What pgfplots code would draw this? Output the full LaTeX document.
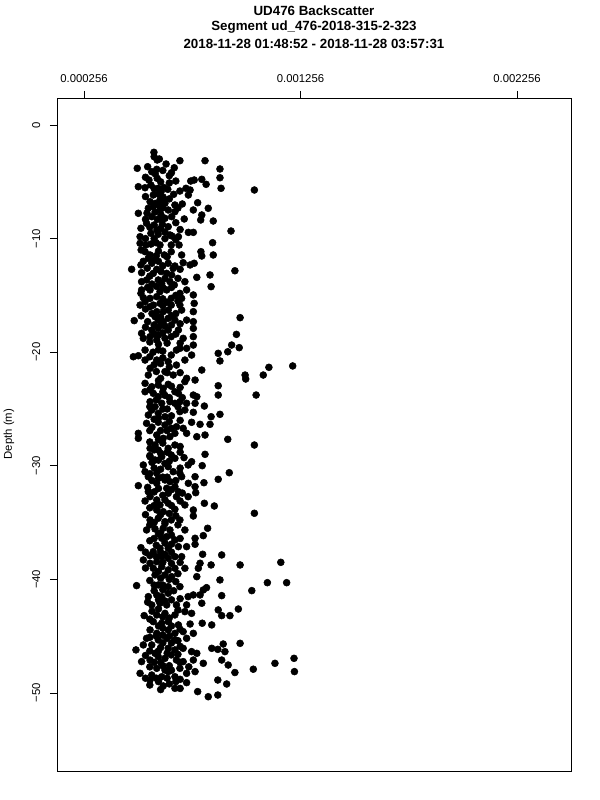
\documentclass[border=0pt]{standalone}
\usepackage{pgfplots}
\pgfplotsset{compat=1.18}
\usepackage{fontspec}
\setmainfont{Liberation Sans}
\begin{document}
\begin{tikzpicture}[x=0.75pt,y=0.75pt]
\useasboundingbox (0,0) rectangle (600,800);
\node[font=\fontsize{10}{12}\selectfont\bfseries] at (314,789) {UD476 Backscatter};
\node[font=\fontsize{10}{12}\selectfont\bfseries] at (314,773) {Segment ud\_476-2018-315-2-323};
\node[font=\fontsize{10}{12}\selectfont\bfseries] at (314,756) {2018-11-28 01:48:52 - 2018-11-28 03:57:31};
\node[rotate=90,font=\fontsize{8.5}{10}\selectfont] at (9,366) {Depth (m)};
\begin{axis}[
  at={(42.75pt,21.75pt)}, anchor=south west,
  scale only axis, width=385.5pt, height=504.75pt,
  xmin=0.0001313, xmax=0.0025054, ymin=-56.87, ymax=2.38,
  axis line style={line width=0.6pt},
  tick align=outside, major tick length=5.25pt,
  tick style={black, line width=0.6pt},
  xtick pos=upper, xticklabel pos=upper,
  ytick pos=left,
  xtick={0.000256,0.001256,0.002256},
  xticklabels={0.000256,0.001256,0.002256},
  ytick={-50,-40,-30,-20,-10,0},
  yticklabels={−50,−40,−30,−20,−10,0},
  ticklabel style={font=\fontsize{8.5}{10}\selectfont},
  yticklabel style={rotate=90, anchor=south},
  xticklabel shift=3pt, yticklabel shift=3.75pt,
  scaled x ticks=false,
  clip=false,
]
\addplot[only marks, mark=*, mark size=2.6pt, black] table[x=x,y=y] {
x y
5.79e-4 -2.40
5.80e-4 -2.79
5.94e-4 -3.08
6.04e-4 -2.99
6.35e-4 -3.43
6.99e-4 -3.14
8.15e-4 -3.14
5.02e-4 -3.81
5.50e-4 -3.67
5.69e-4 -4.11
5.92e-4 -3.90
6.73e-4 -3.76
8.84e-4 -3.87
6.50e-4 -4.46
5.94e-4 -4.69
5.56e-4 -4.84
6.80e-4 -4.93
7.49e-4 -4.93
7.65e-4 -4.84
8.00e-4 -4.78
8.20e-4 -5.22
8.84e-4 -4.64
5.07e-4 -5.43
5.38e-4 -5.52
5.65e-4 -5.28
5.99e-4 -5.57
6.12e-4 -5.87
6.43e-4 -5.66
6.99e-4 -5.81
7.27e-4 -5.57
7.46e-4 -5.72
8.89e-4 -5.57
10.43e-4 -5.72
5.76e-4 -6.16
5.98e-4 -6.07
6.21e-4 -6.34
6.07e-4 -6.60
7.38e-4 -6.16
5.61e-4 -6.75
6.30e-4 -6.89
6.76e-4 -7.04
7.10e-4 -6.95
7.81e-4 -6.84
5.53e-4 -7.33
5.76e-4 -7.19
6.07e-4 -7.48
6.45e-4 -7.48
6.76e-4 -7.63
7.61e-4 -7.48
8.30e-4 -7.33
5.07e-4 -7.77
5.69e-4 -8.07
6.12e-4 -7.92
6.30e-4 -8.21
6.61e-4 -8.07
7.19e-4 -8.27
8.00e-4 -7.92
7.95e-4 -8.36
8.53e-4 -8.45
5.45e-4 -8.65
5.80e-4 -8.80
6.18e-4 -8.74
6.45e-4 -8.95
5.19e-4 -9.09
5.65e-4 -9.53
5.99e-4 -9.62
6.53e-4 -9.68
6.92e-4 -9.83
7.38e-4 -9.45
7.61e-4 -9.45
9.35e-4 -9.33
5.15e-4 -9.83
6.21e-4 -6.60
6.02e-4 -7.04
6.16e-4 -8.36
5.93e-4 -9.24
6.30e-4 -9.42
5.84e-4 -7.66
6.62e-4 -9.77
5.47e-4 -7.75
5.15e-4 -10.41
5.42e-4 -10.56
5.65e-4 -10.48
5.89e-4 -10.36
6.07e-4 -10.56
6.59e-4 -10.56
6.95e-4 -10.56
8.50e-4 -10.36
5.38e-4 -11.15
5.61e-4 -11.44
5.53e-4 -11.73
6.27e-4 -11.44
6.59e-4 -11.15
7.07e-4 -11.44
7.96e-4 -11.15
8.00e-4 -11.53
8.53e-4 -11.44
4.76e-4 -12.70
5.19e-4 -12.32
5.69e-4 -12.17
6.45e-4 -12.17
6.76e-4 -12.41
6.68e-4 -12.62
7.14e-4 -12.12
7.46e-4 -12.32
7.65e-4 -12.17
9.53e-4 -12.83
5.22e-4 -13.00
5.76e-4 -13.06
5.92e-4 -12.70
6.38e-4 -13.06
6.61e-4 -13.20
7.77e-4 -13.41
8.38e-4 -13.20
5.22e-4 -13.79
5.45e-4 -13.64
5.99e-4 -13.64
6.15e-4 -13.94
6.53e-4 -13.79
6.73e-4 -14.08
7.22e-4 -13.79
8.43e-4 -14.23
5.22e-4 -14.52
5.19e-4 -14.82
5.61e-4 -14.52
6.07e-4 -14.67
6.38e-4 -14.52
6.99e-4 -14.82
7.30e-4 -14.52
7.61e-4 -14.96
5.61e-4 -15.26
5.92e-4 -15.11
6.59e-4 -15.26
7.07e-4 -15.26
5.15e-4 -15.85
5.38e-4 -15.55
5.76e-4 -15.85
6.07e-4 -15.70
6.59e-4 -15.85
6.99e-4 -15.85
7.65e-4 -15.70
5.92e-4 -16.43
6.22e-4 -16.43
6.45e-4 -16.29
7.07e-4 -16.29
7.61e-4 -16.43
4.88e-4 -17.22
5.50e-4 -17.31
5.84e-4 -16.87
5.99e-4 -17.17
6.22e-4 -17.31
6.45e-4 -17.02
6.76e-4 -17.17
7.30e-4 -17.17
7.61e-4 -17.31
9.77e-4 -16.96
5.69e-4 -18.05
5.99e-4 -17.90
6.45e-4 -18.05
6.92e-4 -18.05
5.22e-4 -18.34
7.61e-4 -17.90
9.60e-4 -18.43
5.80e-4 -11.90
6.00e-4 -12.00
6.12e-4 -12.90
5.48e-4 -12.60
6.30e-4 -13.50
5.90e-4 -14.20
5.70e-4 -14.00
6.20e-4 -15.30
6.40e-4 -15.60
6.80e-4 -15.00
5.40e-4 -16.20
5.70e-4 -16.60
6.80e-4 -16.60
6.10e-4 -17.60
6.60e-4 -17.60
5.40e-4 -17.80
7.00e-4 -17.50
6.20e-4 -18.30
5.80e-4 -18.40
5.30e-4 -18.78
5.61e-4 -18.63
5.92e-4 -18.93
6.30e-4 -18.78
6.59e-4 -18.63
7.14e-4 -18.78
7.61e-4 -18.63
9.38e-4 -19.37
9.73e-4 -19.60
9.20e-4 -19.96
8.76e-4 -20.10
8.84e-4 -20.77
4.84e-4 -20.40
5.07e-4 -20.31
5.38e-4 -19.81
5.38e-4 -20.69
5.92e-4 -20.69
6.59e-4 -20.25
6.83e-4 -19.81
6.99e-4 -19.66
7.30e-4 -19.66
7.53e-4 -20.25
7.61e-4 -19.37
6.45e-4 -20.83
6.83e-4 -21.13
7.22e-4 -20.69
8.00e-4 -21.57
5.61e-4 -21.42
5.53e-4 -22.01
6.30e-4 -21.71
6.68e-4 -22.01
7.30e-4 -22.30
7.22e-4 -22.59
7.69e-4 -22.45
10.00e-4 -22.01
10.03e-4 -22.36
10.84e-4 -22.01
11.10e-4 -21.33
12.20e-4 -21.21
5.38e-4 -22.74
5.69e-4 -23.04
5.99e-4 -22.89
6.22e-4 -23.18
6.45e-4 -22.83
8.76e-4 -22.95
5.38e-4 -23.48
5.76e-4 -23.62
5.99e-4 -23.92
6.76e-4 -23.48
6.92e-4 -23.62
7.61e-4 -23.77
7.77e-4 -23.92
8.76e-4 -23.77
10.51e-4 -23.77
5.61e-4 -24.36
5.84e-4 -24.80
6.15e-4 -24.50
6.53e-4 -24.36
6.76e-4 -24.50
6.99e-4 -24.36
7.30e-4 -24.50
7.69e-4 -24.50
8.12e-4 -24.74
5.53e-4 -25.53
5.69e-4 -25.09
5.99e-4 -25.38
6.30e-4 -25.68
6.99e-4 -25.23
7.22e-4 -25.09
7.61e-4 -25.29
8.84e-4 -25.47
8.43e-4 -25.68
5.45e-4 -26.26
5.99e-4 -26.17
6.30e-4 -26.41
6.83e-4 -26.56
7.53e-4 -26.17
7.92e-4 -26.35
8.38e-4 -26.35
6.59e-4 -26.70
7.14e-4 -26.70
6.00e-4 -19.30
6.20e-4 -19.90
5.75e-4 -20.00
6.10e-4 -21.00
5.90e-4 -21.70
6.50e-4 -21.30
7.00e-4 -21.80
6.10e-4 -22.30
6.60e-4 -23.00
6.30e-4 -23.80
7.10e-4 -24.00
5.90e-4 -24.20
6.40e-4 -25.00
6.60e-4 -25.60
5.80e-4 -25.90
5.70e-4 -26.60
6.10e-4 -26.90
5.07e-4 -27.14
5.07e-4 -27.58
5.92e-4 -27.29
6.22e-4 -27.58
6.53e-4 -27.44
6.76e-4 -27.14
7.30e-4 -27.14
7.77e-4 -27.44
8.15e-4 -27.29
9.20e-4 -27.67
10.43e-4 -28.17
5.61e-4 -28.46
5.84e-4 -28.17
5.99e-4 -28.61
6.45e-4 -28.46
6.76e-4 -28.17
8.15e-4 -28.99
5.61e-4 -29.20
5.84e-4 -29.49
6.15e-4 -29.20
6.59e-4 -29.05
6.76e-4 -29.34
7.18e-4 -29.28
7.53e-4 -29.64
7.37e-4 -29.93
8.02e-4 -29.99
5.30e-4 -29.93
5.38e-4 -30.52
5.53e-4 -30.96
5.92e-4 -30.66
6.45e-4 -30.08
6.68e-4 -30.52
6.99e-4 -30.66
7.07e-4 -30.96
7.69e-4 -30.96
9.27e-4 -30.61
8.76e-4 -31.19
5.07e-4 -31.75
5.92e-4 -31.54
6.30e-4 -31.25
6.53e-4 -31.40
6.38e-4 -31.98
6.76e-4 -31.84
6.92e-4 -32.28
7.38e-4 -31.54
7.69e-4 -31.84
7.72e-4 -32.37
8.10e-4 -31.49
5.53e-4 -32.28
5.61e-4 -32.72
5.92e-4 -33.01
6.45e-4 -32.42
6.83e-4 -32.72
7.37e-4 -32.72
5.38e-4 -33.10
6.07e-4 -33.45
6.45e-4 -33.30
6.76e-4 -33.83
7.22e-4 -33.45
8.12e-4 -33.30
8.58e-4 -33.54
5.92e-4 -33.89
6.22e-4 -34.04
7.61e-4 -33.89
7.61e-4 -34.42
10.43e-4 -34.18
5.61e-4 -34.77
5.99e-4 -34.62
6.30e-4 -34.92
6.59e-4 -34.77
6.99e-4 -34.77
5.60e-4 -27.90
6.20e-4 -28.00
7.00e-4 -28.30
6.10e-4 -28.90
5.70e-4 -29.70
6.30e-4 -29.80
6.10e-4 -30.30
6.20e-4 -31.00
5.70e-4 -31.30
6.00e-4 -32.00
6.20e-4 -32.60
5.80e-4 -33.50
6.50e-4 -34.20
7.00e-4 -33.10
5.40e-4 -34.30
5.45e-4 -35.65
5.84e-4 -35.56
6.22e-4 -35.50
6.53e-4 -35.65
7.22e-4 -35.65
7.69e-4 -36.38
8.07e-4 -36.15
8.27e-4 -35.50
6.15e-4 -36.38
6.38e-4 -36.24
6.76e-4 -36.53
7.30e-4 -37.12
7.69e-4 -36.91
5.19e-4 -37.21
5.76e-4 -37.56
6.07e-4 -37.26
6.45e-4 -37.26
6.92e-4 -37.12
8.04e-4 -37.79
8.92e-4 -37.85
6.15e-4 -38.00
6.45e-4 -38.14
6.76e-4 -38.00
7.07e-4 -38.00
5.30e-4 -38.29
5.61e-4 -38.58
5.92e-4 -38.44
7.92e-4 -38.58
8.43e-4 -38.73
9.77e-4 -38.73
11.65e-4 -38.50
5.76e-4 -39.02
6.15e-4 -38.88
6.45e-4 -39.17
6.76e-4 -39.02
7.22e-4 -39.02
7.84e-4 -39.02
7.77e-4 -39.76
5.84e-4 -39.61
6.30e-4 -39.61
6.61e-4 -39.76
8.84e-4 -40.05
4.99e-4 -40.55
5.99e-4 -40.49
6.45e-4 -40.64
6.99e-4 -40.64
8.22e-4 -40.73
8.07e-4 -40.93
10.31e-4 -40.99
11.03e-4 -40.29
11.92e-4 -40.29
5.53e-4 -41.52
5.92e-4 -41.37
6.15e-4 -41.52
6.45e-4 -41.22
7.37e-4 -41.52
7.61e-4 -41.37
7.92e-4 -41.37
8.92e-4 -41.43
5.69e-4 -42.25
6.07e-4 -42.10
6.38e-4 -42.25
6.83e-4 -42.25
7.30e-4 -42.25
8.00e-4 -42.10
8.76e-4 -42.69
8.92e-4 -43.19
9.30e-4 -43.19
9.69e-4 -42.61
5.34e-4 -43.19
5.92e-4 -43.13
6.30e-4 -42.99
6.76e-4 -43.13
7.22e-4 -42.84
7.53e-4 -42.99
6.00e-4 -36.00
5.60e-4 -36.60
6.60e-4 -36.90
5.90e-4 -37.00
6.30e-4 -37.80
5.60e-4 -37.90
6.10e-4 -39.90
5.60e-4 -40.10
6.80e-4 -40.20
6.20e-4 -40.90
5.80e-4 -41.00
6.00e-4 -42.60
6.60e-4 -41.80
7.00e-4 -41.70
6.50e-4 -43.40
5.70e-4 -42.80
5.76e-4 -43.72
6.15e-4 -43.86
6.45e-4 -43.72
6.92e-4 -44.01
7.46e-4 -43.93
8.02e-4 -43.86
8.46e-4 -44.01
5.61e-4 -44.45
5.92e-4 -44.75
6.45e-4 -44.45
6.76e-4 -44.75
7.14e-4 -44.60
7.61e-4 -44.75
5.45e-4 -45.19
5.99e-4 -45.33
6.38e-4 -45.19
6.76e-4 -45.33
7.30e-4 -45.19
9.77e-4 -45.63
4.96e-4 -46.21
5.30e-4 -45.77
5.69e-4 -45.77
5.84e-4 -46.51
6.45e-4 -46.07
6.76e-4 -46.21
7.14e-4 -46.07
7.53e-4 -46.36
7.77e-4 -46.51
8.46e-4 -46.07
8.74e-4 -46.16
8.99e-4 -45.69
9.07e-4 -46.36
5.22e-4 -47.24
5.61e-4 -47.10
5.99e-4 -46.80
6.30e-4 -46.95
6.59e-4 -46.65
6.83e-4 -47.10
7.14e-4 -47.24
7.61e-4 -47.10
8.07e-4 -47.39
8.92e-4 -47.10
9.22e-4 -47.54
11.38e-4 -47.39
12.26e-4 -46.95
10.38e-4 -47.91
12.28e-4 -48.12
5.15e-4 -48.27
5.61e-4 -48.86
6.15e-4 -48.57
6.45e-4 -48.12
6.76e-4 -48.57
6.99e-4 -47.83
7.30e-4 -48.27
7.69e-4 -48.12
5.69e-4 -48.42
5.92e-4 -47.83
6.30e-4 -47.98
9.53e-4 -48.20
8.74e-4 -48.86
9.15e-4 -49.21
6.22e-4 -49.38
6.76e-4 -49.59
7.30e-4 -49.09
7.81e-4 -49.88
8.30e-4 -50.33
8.74e-4 -50.18
6.20e-4 -44.30
5.90e-4 -45.00
6.60e-4 -45.60
6.10e-4 -46.00
7.00e-4 -45.90
5.80e-4 -47.30
6.50e-4 -47.60
7.00e-4 -48.80
6.00e-4 -49.00
6.50e-4 -49.20
5.90e-4 -48.70
7.40e-4 -47.70
5.85e-4 -4.3
6.20e-4 -4.0
6.60e-4 -4.2
5.40e-4 -4.6
6.10e-4 -5.0
6.50e-4 -5.1
5.80e-4 -5.6
6.25e-4 -5.5
6.70e-4 -6.1
5.40e-4 -6.3
5.85e-4 -6.9
6.50e-4 -6.5
6.90e-4 -7.3
6.20e-4 -7.3
5.40e-4 -8.3
5.95e-4 -8.3
6.80e-4 -8.6
5.60e-4 -9.0
6.10e-4 -9.1
7.00e-4 -9.2
5.40e-4 -10.0
5.80e-4 -10.0
6.30e-4 -10.0
6.80e-4 -10.1
5.20e-4 -11.0
6.00e-4 -11.1
6.40e-4 -11.6
5.90e-4 -11.5
5.30e-4 -12.0
6.20e-4 -12.4
7.00e-4 -12.7
5.60e-4 -13.3
6.90e-4 -13.5
5.50e-4 -14.3
6.20e-4 -14.3
6.60e-4 -14.3
5.30e-4 -15.2
6.90e-4 -15.5
6.20e-4 -15.9
5.60e-4 -16.0
6.10e-4 -16.9
6.60e-4 -16.8
5.20e-4 -16.8
6.30e-4 -17.7
5.80e-4 -17.6
6.00e-4 -18.5
6.80e-4 -18.4
5.60e-4 -19.1
6.40e-4 -19.2
7.00e-4 -19.2
6.00e-4 -19.8
5.60e-4 -20.4
6.20e-4 -20.5
5.80e-4 -21.1
6.40e-4 -21.8
6.00e-4 -22.5
5.60e-4 -23.3
6.20e-4 -23.5
7.00e-4 -23.1
6.50e-4 -24.0
5.60e-4 -24.8
6.20e-4 -25.0
6.90e-4 -24.8
6.00e-4 -25.8
6.50e-4 -26.1
7.00e-4 -26.0
5.60e-4 -26.9
6.40e-4 -26.9
6.00e-4 -27.7
5.80e-4 -28.6
6.40e-4 -28.8
7.00e-4 -28.8
5.60e-4 -29.1
6.00e-4 -29.5
6.50e-4 -29.6
5.80e-4 -30.2
7.00e-4 -30.2
5.60e-4 -30.7
6.40e-4 -31.0
6.00e-4 -31.1
6.80e-4 -31.3
5.50e-4 -31.9
6.60e-4 -32.1
5.80e-4 -32.3
7.10e-4 -32.4
6.30e-4 -33.0
6.60e-4 -33.5
5.60e-4 -33.7
6.10e-4 -34.3
6.80e-4 -34.4
5.80e-4 -35.0
6.30e-4 -35.1
6.90e-4 -35.2
5.60e-4 -35.2
6.10e-4 -35.9
6.60e-4 -36.1
7.00e-4 -36.4
5.80e-4 -36.4
6.30e-4 -36.8
6.10e-4 -37.6
6.60e-4 -37.6
5.40e-4 -37.6
5.90e-4 -38.0
7.00e-4 -38.5
6.20e-4 -38.5
6.60e-4 -38.6
5.40e-4 -39.0
6.00e-4 -39.3
6.90e-4 -39.5
6.50e-4 -40.0
5.80e-4 -40.5
6.20e-4 -40.5
6.70e-4 -41.0
6.00e-4 -41.8
6.30e-4 -41.9
5.50e-4 -42.0
6.90e-4 -42.7
6.20e-4 -43.3
5.60e-4 -43.5
6.00e-4 -44.1
6.60e-4 -44.1
7.00e-4 -44.4
6.20e-4 -44.9
5.60e-4 -45.1
6.50e-4 -45.0
6.90e-4 -45.4
6.20e-4 -45.6
5.60e-4 -46.3
6.00e-4 -46.3
6.40e-4 -46.5
6.90e-4 -46.6
5.40e-4 -46.7
6.10e-4 -47.3
7.00e-4 -47.3
5.60e-4 -47.7
6.20e-4 -47.6
6.60e-4 -48.0
5.40e-4 -48.7
6.40e-4 -48.7
6.80e-4 -49.0
5.60e-4 -49.3
6.10e-4 -49.7
7.00e-4 -49.6
};
\end{axis}
\end{tikzpicture}
\end{document}
